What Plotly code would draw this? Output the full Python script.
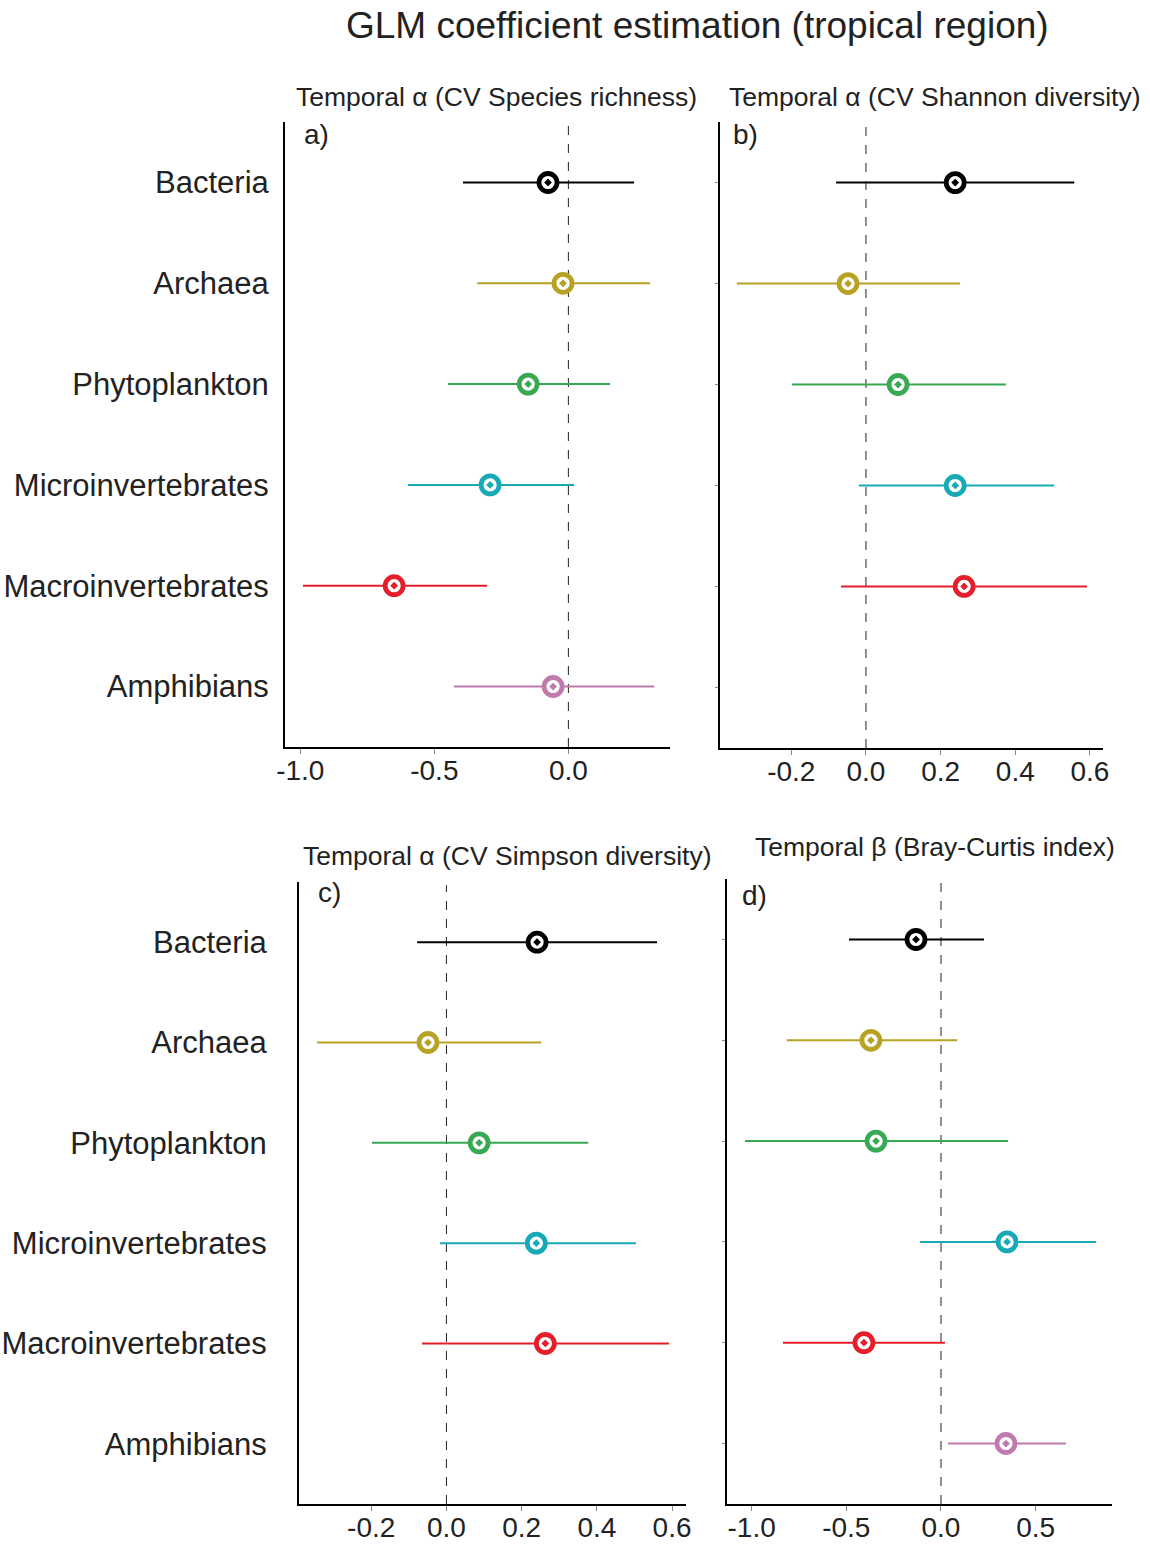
import plotly.graph_objects as go

W, H = 1150, 1547

categories = ["Bacteria", "Archaea", "Phytoplankton", "Microinvertebrates",
              "Macroinvertebrates", "Amphibians"]
colors = ["#000000", "#B8A224", "#38A853", "#18A9B6", "#E41F2B", "#BF7BAE"]

# panel a: Temporal alpha (CV species richness)
a_est = [-0.076, -0.020, -0.150, -0.292, -0.650, -0.057]
a_lo = [-0.393, -0.340, -0.449, -0.598, -0.990, -0.427]
a_hi = [0.245, 0.305, 0.156, 0.021, -0.303, 0.320]

# panel b: Temporal alpha (CV Shannon diversity)
b_est = [0.239, -0.048, 0.086, 0.239, 0.263]
b_lo = [-0.080, -0.346, -0.198, -0.019, -0.067]
b_hi = [0.558, 0.252, 0.375, 0.504, 0.592]

# panel c: Temporal alpha (CV Simpson diversity)
c_est = [0.241, -0.049, 0.087, 0.239, 0.263]
c_lo = [-0.078, -0.344, -0.198, -0.017, -0.065]
c_hi = [0.560, 0.252, 0.377, 0.504, 0.592]

# panel d: Temporal beta (Bray-Curtis index)
d_est = [-0.132, -0.370, -0.343, 0.349, -0.407, 0.343]
d_lo = [-0.486, -0.814, -1.035, -0.111, -0.835, 0.037]
d_hi = [0.227, 0.085, 0.354, 0.819, 0.021, 0.660]

ticks_a = [-1.0, -0.5, 0.0]
ticks_b = [-0.2, 0.0, 0.2, 0.4, 0.6]
ticks_c = [-0.2, 0.0, 0.2, 0.4, 0.6]
ticks_d = [-1.0, -0.5, 0.0, 0.5]

titles = ["Temporal α (CV Species richness)", "Temporal α (CV Shannon diversity)",
          "Temporal α (CV Simpson diversity)", "Temporal β (Bray-Curtis index)"]
letters = ["a)", "b)", "c)", "d)"]
main_title = "GLM coefficient estimation (tropical region)"

TXT = "#222222"
FONT = "Liberation Sans, Arial, sans-serif"
NARROW = "Liberation Sans Narrow, Arial Narrow, Liberation Sans, Arial, sans-serif"

# panel geometry in pixels: (x0, x1, ytop, ybottom)
panels = [
    dict(px=(285, 670), py=(122, 747), xr=(-1.057, 0.379), ticks=ticks_a,
         est=a_est, lo=a_lo, hi=a_hi, labels=True, standoff=8,
         title=(496, 97), letter=(302, 134)),
    dict(px=(720, 1103), py=(122, 748), xr=(-0.391, 0.635), ticks=ticks_b,
         est=b_est, lo=b_lo, hi=b_hi, labels=False, standoff=0,
         title=(935, 97), letter=(731, 134)),
    dict(px=(299, 686), py=(882, 1504), xr=(-0.392, 0.637), ticks=ticks_c,
         est=c_est, lo=c_lo, hi=c_hi, labels=True, standoff=24,
         title=(507, 856), letter=(316, 893)),
    dict(px=(727, 1112), py=(879, 1504), xr=(-1.13, 0.903), ticks=ticks_d,
         est=d_est, lo=d_lo, hi=d_hi, labels=False, standoff=0,
         title=(935, 847), letter=(740, 895)),
]

fig = go.Figure()
layout = {}
annotations = []
shapes = []

for i, p in enumerate(panels):
    n = i + 1
    xa = "x" if n == 1 else f"x{n}"
    ya = "y" if n == 1 else f"y{n}"
    xkey = "xaxis" if n == 1 else f"xaxis{n}"
    ykey = "yaxis" if n == 1 else f"yaxis{n}"
    for j, est in enumerate(p["est"]):
        fig.add_trace(go.Scatter(
            x=[est], y=[categories[j]], xaxis=xa, yaxis=ya, mode="markers",
            showlegend=False, cliponaxis=False,
            error_x=dict(type="data", symmetric=False,
                         array=[p["hi"][j] - est], arrayminus=[est - p["lo"][j]],
                         color=colors[j], thickness=2, width=0),
            marker=dict(symbol="circle-dot", size=18, color="white",
                        line=dict(color=colors[j], width=4.8)),
        ))
    layout[xkey] = dict(
        domain=[p["px"][0] / W, p["px"][1] / W], anchor=ya, automargin=False,
        range=list(p["xr"]), tickmode="array", tickvals=p["ticks"],
        ticktext=[f"{t:.1f}" for t in p["ticks"]],
        showline=True, linecolor="black", linewidth=2, showgrid=False,
        zeroline=False, ticks="outside", ticklen=5, tickcolor="#888888",
        tickwidth=1, ticklabelstandoff=-8,
        tickfont=dict(family=NARROW, size=28, color=TXT),
    )
    layout[ykey] = dict(
        domain=[1 - p["py"][1] / H, 1 - p["py"][0] / H], anchor=xa, automargin=False,
        type="category", categoryorder="array", categoryarray=categories,
        range=[len(categories) - 0.4, -0.6],
        showline=True, linecolor="black", linewidth=2, showgrid=False,
        zeroline=False, showticklabels=p["labels"],
        ticks="" if p["labels"] else "outside", ticklen=3, tickcolor="#888888",
        ticklabelstandoff=p["standoff"],
        tickfont=dict(family=FONT, size=31, color=TXT),
    )
    shapes.append(dict(type="line", xref=xa, yref=f"{ya} domain", x0=0, x1=0,
                       y0=0, y1=0.995, line=dict(color="#222222", width=1, dash="dash"),
                       layer="below"))
    annotations.append(dict(text=titles[i], xref="paper", yref="paper",
                            x=p["title"][0] / W, y=1 - p["title"][1] / H,
                            xanchor="center", yanchor="middle", showarrow=False,
                            font=dict(family=FONT, size=26.5, color=TXT)))
    annotations.append(dict(text=letters[i], xref="paper", yref="paper",
                            x=p["letter"][0] / W, y=1 - p["letter"][1] / H,
                            xanchor="left", yanchor="middle", showarrow=False,
                            font=dict(family=FONT, size=28, color=TXT)))

annotations.append(dict(text=main_title, xref="paper", yref="paper",
                        x=697 / W, y=1 - 25 / H, xanchor="center", yanchor="middle",
                        showarrow=False, font=dict(family=FONT, size=37, color=TXT)))

fig.update_layout(
    width=W, height=H, margin=dict(l=0, r=0, t=0, b=0, autoexpand=False),
    paper_bgcolor="white", plot_bgcolor="white",
    annotations=annotations, shapes=shapes, **layout,
)

fig.write_html(
    "out.html",
    config={"displayModeBar": False},
    post_script="document.body.style.margin='0';document.body.style.padding='0';"
                "document.body.style.overflow='hidden';"
                "document.documentElement.style.overflow='hidden';",
)
